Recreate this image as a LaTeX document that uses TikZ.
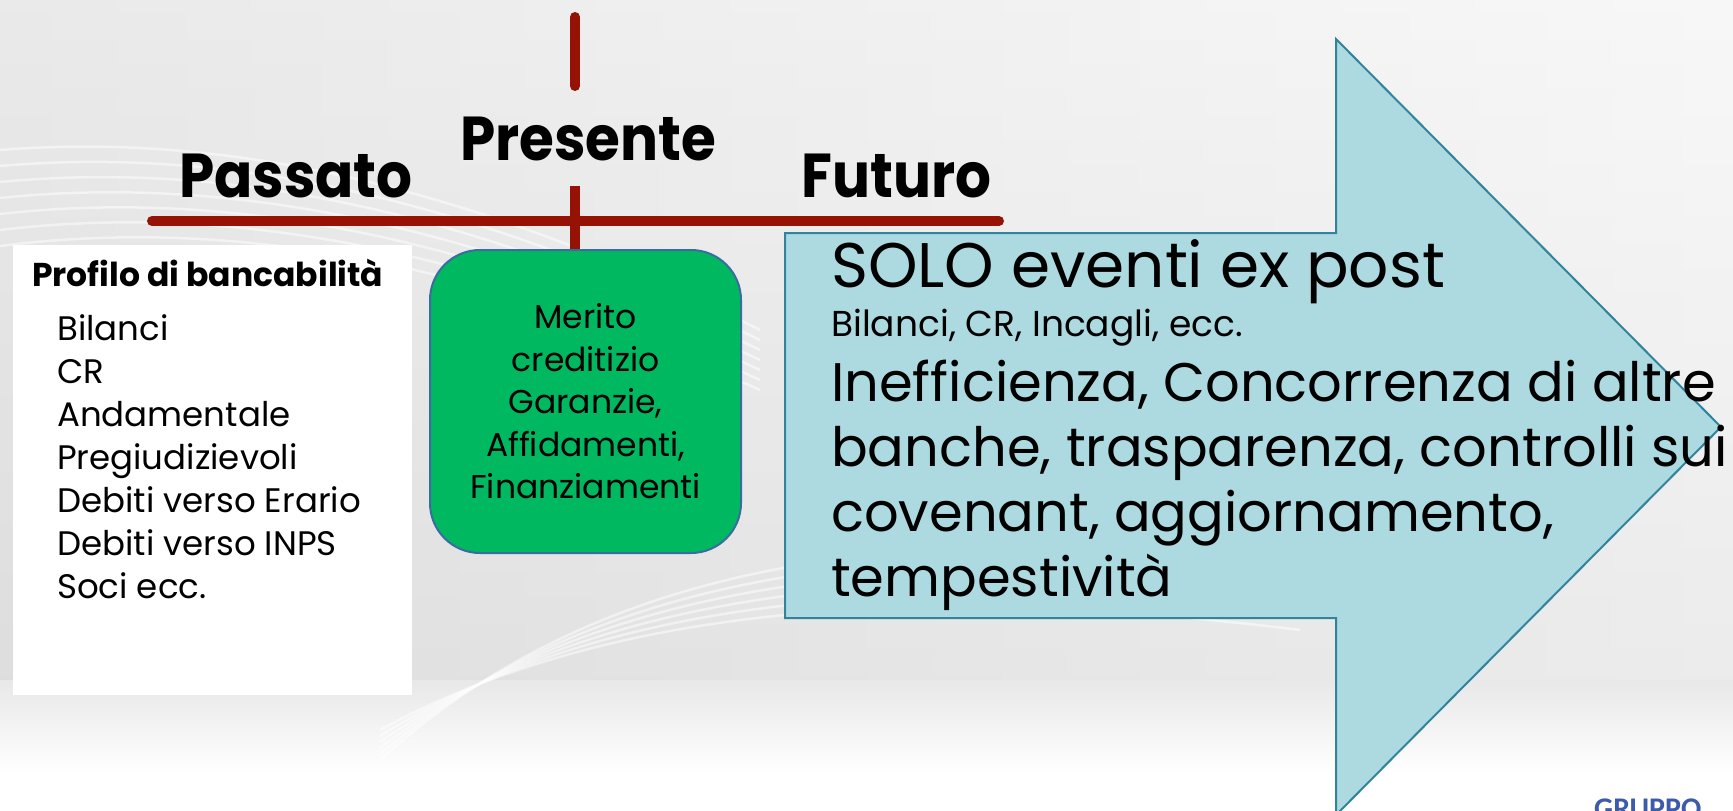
\documentclass[tikz,border=0pt]{standalone}
\usepackage{fontspec}
\setmainfont{Poppins}
\newfontfamily\periodfont{Poppins}[FakeStretch=0.91]
\newfontfamily\logofont{Carlito}
\usetikzlibrary{positioning,calc}

\definecolor{timered}{RGB}{150,18,4}
\definecolor{meritgreen}{RGB}{0,184,96}
\definecolor{meritedge}{RGB}{58,108,160}
\definecolor{futurefill}{RGB}{172,218,224}
\definecolor{futureedge}{RGB}{49,132,155}
\definecolor{logoblue}{RGB}{62,90,170}

\begin{document}
\begin{tikzpicture}[x=1pt, y=-1pt,
    timeline/.style={draw=timered, line width=10pt, line cap=round},
    period/.style={font=\periodfont\bfseries\fontsize{62}{62}\selectfont, inner sep=0pt, anchor=base west},
    item/.style={font=\fontsize{34}{34}\selectfont, inner sep=0pt, anchor=base west},
    bigitem/.style={font=\fontsize{54.3}{54.3}\selectfont, inner sep=0pt, anchor=base west},
    swirl/.style={draw=white, opacity=0.5, line width=2.5pt}]

    % background
    \useasboundingbox (0,0) rectangle (1733,811);
    \clip (0,0) rectangle (1733,811);
    \shade[left color=gray!30, right color=gray!10] (0,0) rectangle (1733,811);
    \shade[top color=white, bottom color=gray!25, opacity=0.45] (0,0) rectangle (1733,811);
    \shade[top color=gray!18, bottom color=white] (0,680) rectangle (1733,775);
    \fill[white] (0,775) rectangle (1733,811);
    \foreach \k in {0,...,6}
        \draw[swirl] (0,150+\k*16) .. controls (250,130+\k*14) and (500,200+\k*12) .. (760,330+\k*10);
    \foreach \k in {0,...,5}
        \draw[swirl] (380,760-\k*6) .. controls (600,560+\k*10) and (900,520+\k*12) .. (1300,560+\k*14);

    % time axis
    \coordinate (axtop) at (575,17);
    \coordinate (axgap) at (575,86);
    \coordinate (axres) at (575,186);
    \coordinate (axleft) at (152,221);
    \coordinate (axright) at (999,221);

    % passato
    \node[fill=white, minimum width=399pt, minimum height=450pt, inner sep=0pt, anchor=north west] (panel) at (13,245) {};
    \node[font=\bfseries\fontsize{33}{33}\selectfont, inner sep=0pt, anchor=base west] (profilo) at (32,286) {Profilo di bancabilità};
    \foreach \txt [count=\i from 0] in {Bilanci, CR, Andamentale, Pregiudizievoli, Debiti verso Erario, Debiti verso INPS, Soci ecc.}
        \node[item] (voce\i) at (57,340+43*\i) {\txt};

    % presente
    \node[fill=meritgreen, draw=meritedge, line width=2pt, rounded corners=50pt,
          minimum width=311pt, minimum height=303pt, anchor=north west, align=center,
          font=\fontsize{33}{42.5}\selectfont] (merito) at (429,249)
          {Merito\\creditizio\\Garanzie,\\Affidamenti,\\Finanziamenti};

    \draw[timeline] (axtop) -- (axgap);
    \draw[timeline, line cap=butt] (axres) -- (axres |- merito.north);
    \draw[timeline] (axleft) -- (axright);

    \node[period] (passato) at (179,197) {Passato};
    \node[period] (presente) at (460,160) {Presente};
    \node[period] (futuro) at (801,197) {Futuro};

    % futuro
    \draw[fill=futurefill, draw=futureedge, line width=2pt]
        (785,233) -- (1336,233) -- (1336,39) -- (1721,427) -- (1336,815) -- (1336,618) -- (785,618) -- cycle;
    \node[bigitem, font=\fontsize{63}{63}\selectfont] (solo) at (831,287) {SOLO eventi ex post};
    \node[item, font=\fontsize{36}{36}\selectfont] (expost) at (831,336) {Bilanci, CR, Incagli, ecc.};
    \foreach \txt [count=\i from 0] in {{Inefficienza, Concorrenza di altre}, {banche, trasparenza, controlli sui}, {covenant, aggiornamento,}, tempestività}
        \node[bigitem] (limite\i) at (831,401+65*\i) {\txt};

    \node[font=\logofont\bfseries\fontsize{30}{30}\selectfont, text=logoblue, inner sep=0pt, anchor=north west] (gruppo) at (1594,799) {GRUPPO};
\end{tikzpicture}
\end{document}
